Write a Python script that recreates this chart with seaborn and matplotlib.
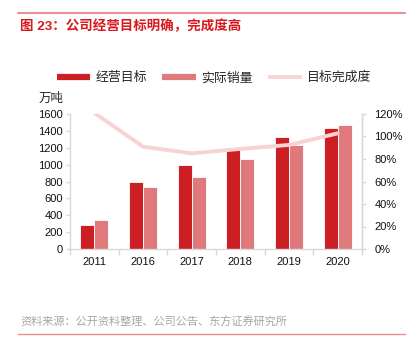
import matplotlib
matplotlib.use("Agg")
import matplotlib.pyplot as plt
import seaborn as sns
import numpy as np
import pandas as pd
from matplotlib.lines import Line2D
from matplotlib.ticker import FuncFormatter, FixedLocator

years = ["2011", "2016", "2017", "2018", "2019", "2020"]
target = [280, 800, 1000, 1200, 1330, 1430]      # 经营目标 (万吨)
actual = [340, 730, 850, 1070, 1230, 1470]       # 实际销量 (万吨)
ratio = [1.21, 0.91, 0.85, 0.89, 0.925, 1.028]   # 目标完成度
series_names = ["经营目标", "实际销量", "目标完成度"]
left_ticks = [0, 200, 400, 600, 800, 1000, 1200, 1400, 1600]
right_ticks = [0, 0.2, 0.4, 0.6, 0.8, 1.0, 1.2]

c_target = "#CC1F24"
c_actual = "#E0797C"
c_line = "#F9D3D4"
c_spine = "#D9D9D9"

sns.set_theme(style="white")
plt.rcParams["font.family"] = ["Liberation Sans", "Noto Sans CJK SC", "DejaVu Sans"]

df = pd.DataFrame({
    "year": years * 2,
    "series": [series_names[0]] * len(years) + [series_names[1]] * len(years),
    "value": target + actual,
})

fig = plt.figure(figsize=(4.15, 3.5), dpi=100)
W, H = 415, 350
ax = fig.add_axes([70 / W, 1 - 249 / H, (362 - 70) / W, (249 - 114) / H])

sns.barplot(data=df, x="year", y="value", hue="series", order=years,
            hue_order=series_names[:2], palette=[c_target, c_actual],
            saturation=1, width=0.58, edgecolor="white", linewidth=0.6,
            ax=ax, legend=False)
ax.set_xlim(-0.5, len(years) - 0.5)
ax.set_ylim(0, 1600)
ax.set_yticks(left_ticks)
ax.set_xlabel("")
ax.set_ylabel("")
ax.tick_params(axis="y", labelsize=8, length=3, color=c_spine, width=1, pad=2, labelcolor="#111111")
ax.tick_params(axis="x", which="major", length=0, labelsize=8, pad=6, labelcolor="#111111")
ax.xaxis.set_minor_locator(FixedLocator(np.arange(-0.5, len(years), 1.0)))
ax.tick_params(axis="x", which="minor", length=4, color=c_spine, width=1, bottom=True)
for s in ["left", "bottom", "right"]:
    ax.spines[s].set_color(c_spine)
    ax.spines[s].set_linewidth(1)
ax.spines["top"].set_visible(False)

ax2 = ax.twinx()
sns.lineplot(x=np.arange(len(years)), y=ratio, color=c_line, linewidth=2.8, ax=ax2)
ax2.set_ylim(0, 1.2)
ax2.set_yticks(right_ticks)
ax2.yaxis.set_major_formatter(FuncFormatter(lambda v, p: f"{v*100:.0f}%"))
ax2.tick_params(axis="y", labelsize=8, length=3, color=c_spine, width=1, pad=6, labelcolor="#111111")
for s in ["left", "bottom", "top"]:
    ax2.spines[s].set_visible(False)
ax2.spines["right"].set_color(c_spine)
ax2.spines["right"].set_linewidth(1)
ax2.set_ylabel("")

# unit label
fig.text(39 / W, 1 - 99 / H, "万吨", fontsize=9, ha="left", va="center")

# legend
handles = [Line2D([0], [0], color=c_target, linewidth=4.5, solid_capstyle="butt"),
           Line2D([0], [0], color=c_actual, linewidth=4.5, solid_capstyle="butt"),
           Line2D([0], [0], color=c_line, linewidth=2.8, solid_capstyle="butt")]
fig.legend(handles, series_names, loc="center", bbox_to_anchor=(214 / W, 1 - 78 / H),
           ncol=3, frameon=False, fontsize=9.3, handlelength=2.6, handletextpad=0.4,
           columnspacing=1.2)

# title and decorations
fig.add_artist(Line2D([18 / W, 405 / W], [1 - 13 / H, 1 - 13 / H], color="#E8908E", linewidth=1.5))
fig.text(20 / W, 1 - 26 / H, "图 23：公司经营目标明确，完成度高", fontsize=9.7,
         fontweight="bold", color="#D7191F", ha="left", va="center")
fig.text(20 / W, 1 - 322 / H, "资料来源：公开资料整理、公司公告、东方证券研究所", fontsize=8,
         color="#A6A6A6", ha="left", va="center")
fig.add_artist(Line2D([18 / W, 405 / W], [1 - 334 / H, 1 - 334 / H], color="#E8908E", linewidth=1))

fig.savefig("out.png", dpi=100)
